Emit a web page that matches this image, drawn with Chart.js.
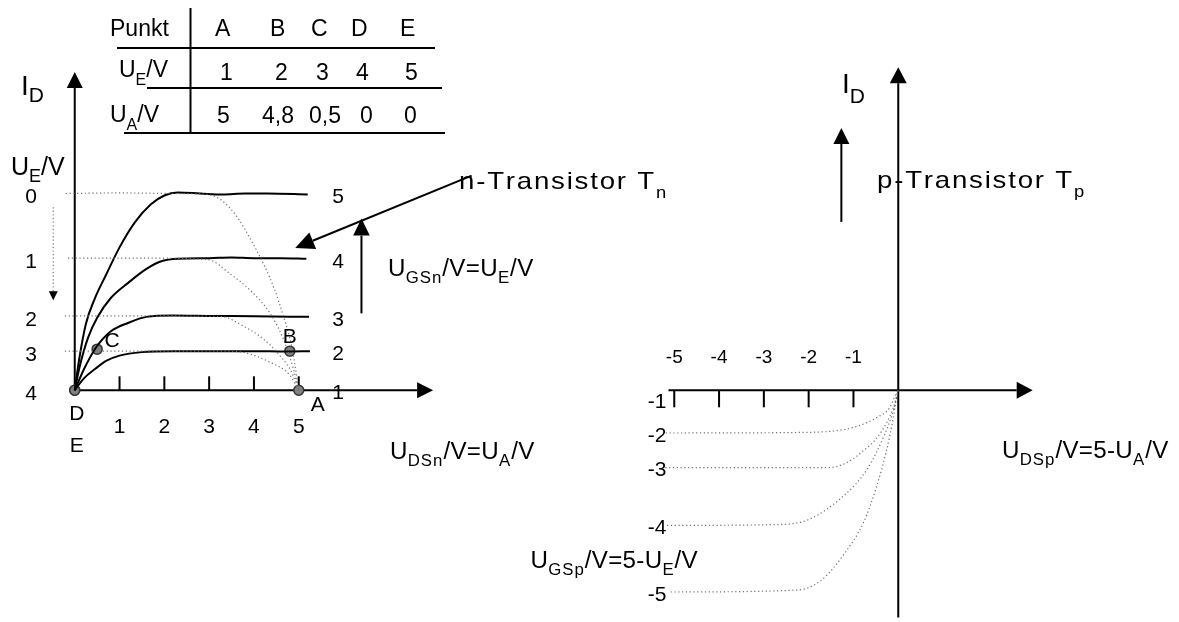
<!DOCTYPE html>
<html>
<head>
<meta charset="utf-8">
<script src="https://cdn.jsdelivr.net/npm/chart.js@4.4.1/dist/chart.umd.min.js"></script>
<style>
  html, body { margin: 0; padding: 0; background: #fff; }
  #wrap { position: relative; width: 1179px; height: 622px; }
</style>
</head>
<body>
<div id="wrap"><canvas id="myChart" width="1179" height="622"></canvas></div>
<script>
//operating points table
const punkte = ["A", "B", "C", "D", "E"];
const uE = [1, 2, 3, 4, 5];
const uA = [5, 4.8, 0.5, 0, 0];
const iPunkt = [0, 2.0, 2.1, 0, 0];

//n-transistor output curves, U_GSn = 5, 4, 3, 2 (1 lies on the axis)
const uGSn = [5, 4, 3, 2, 1];
const n5x = [0, 0.1, 0.25, 0.45, 0.7, 1.0, 1.35, 1.7, 2.0, 2.3, 2.8, 3.3, 3.8, 4.3, 5.2];
const n5y = [0, 1.6, 3.4, 4.7, 5.9, 7.3, 8.6, 9.5, 9.95, 10.1, 10.05, 10.0, 10.05, 10.05, 10.0];
const n4x = [0, 0.12, 0.3, 0.5, 0.8, 1.2, 1.6, 1.95, 2.3, 3.0, 3.5, 4.0, 4.6, 5.17];
const n4y = [0, 1.3, 2.7, 3.7, 4.7, 5.5, 6.2, 6.6, 6.72, 6.75, 6.78, 6.75, 6.75, 6.72];
const n3x = [0, 0.2, 0.45, 0.8, 1.2, 1.6, 2.2, 3.0, 4.0, 5.23];
const n3y = [0, 1.05, 2.1, 3.0, 3.45, 3.75, 3.82, 3.8, 3.78, 3.75];
const n2x = [0, 0.2, 0.46, 0.7, 1.0, 1.5, 2.2, 3.0, 4.0, 4.7, 5.25];
const n2y = [0, 0.6, 1.1, 1.5, 1.77, 1.95, 2.0, 2.0, 2.0, 1.98, 2.0];

//p-transistor curves mirrored into the n field, U_E = 0, 1, 2, 3
const uELevel = [0, 1, 2, 3, 4];
const m0x = [-0.2, 1.0, 2.2, 2.97, 3.48, 4.07, 4.44, 4.66, 4.84, 4.95, 5.0];
const m0y = [10.05, 10.08, 10.05, 10.0, 9.27, 7.1, 5.27, 3.77, 2.27, 0.77, 0];
const m1x = [-0.15, 1.5, 2.96, 3.48, 3.92, 4.36, 4.66, 4.88, 5.0];
const m1y = [6.75, 6.75, 6.68, 5.93, 5.1, 3.93, 2.6, 1.1, 0];
const m2x = [-0.22, 1.5, 3.26, 3.77, 4.22, 4.58, 4.84, 5.0];
const m2y = [3.8, 3.8, 3.77, 3.27, 2.6, 1.77, 0.93, 0];
const m3x = [-0.22, 1.5, 3.3, 3.77, 4.36, 4.8, 5.0];
const m3y = [2.0, 2.0, 2.0, 1.93, 1.43, 0.77, 0];

//p-transistor curves, U_GSp = -2 .. -5
const uGSp = [-1, -2, -3, -4, -5];
const p2x = [-5.19, -2.1, -1.2, -0.75, -0.48, -0.19, -0.04, 0];
const p2y = [-2.18, -2.15, -2.0, -1.7, -1.39, -0.89, -0.13, 0];
const p3x = [-5.2, -1.6, -1.2, -0.85, -0.41, -0.11, 0];
const p3y = [-3.95, -3.95, -3.75, -3.22, -2.22, -0.89, 0];
const p4x = [-5.16, -2.6, -2.0, -1.22, -0.7, -0.33, -0.11, 0];
const p4y = [-6.9, -6.85, -6.6, -5.39, -4.05, -2.39, -1.04, 0];
const p5x = [-5.08, -2.25, -1.73, -1.22, -0.77, -0.48, -0.26, -0.11, -0.02, 0];
const p5y = [-10.3, -10.2, -9.72, -8.39, -6.72, -4.89, -3.05, -1.39, -0.13, 0];

//axis ticks
const nTicks = [1, 2, 3, 4, 5];
const pTicks = [-5, -4, -3, -2, -1];

const FONT = "'Liberation Sans', Arial, sans-serif";
const PX_V = 45.3; // pixels per volt
const PX_I = 20; // pixels per current unit

function pts(xs, ys) {
  return xs.map((x, i) => ({ x: x, y: ys[i] }));
}

function solid(xs, ys) {
  return {
    data: pts(xs, ys),
    showLine: true,
    borderColor: "#000",
    borderWidth: 2,
    pointRadius: 0,
    cubicInterpolationMode: "monotone",
    xAxisID: "x",
  };
}

function dotted(xs, ys, axis) {
  return {
    data: pts(xs, ys),
    showLine: true,
    borderColor: "#6e6e6e",
    borderWidth: 1.2,
    borderDash: [1.2, 2.6],
    pointRadius: 0,
    cubicInterpolationMode: "monotone",
    xAxisID: axis,
  };
}

//filled arrow from (x1,y1) to tip (x2,y2), pixel coords
function arrow(ctx, x1, y1, x2, y2, len, half, dash) {
  const a = Math.atan2(y2 - y1, x2 - x1);
  const bx = x2 - len * Math.cos(a);
  const by = y2 - len * Math.sin(a);
  ctx.save();
  if (dash) {
    ctx.setLineDash(dash);
    ctx.strokeStyle = "#777";
    ctx.fillStyle = "#000";
    ctx.lineWidth = 1.2;
  }
  ctx.beginPath();
  ctx.moveTo(x1, y1);
  ctx.lineTo(bx, by);
  ctx.stroke();
  ctx.setLineDash([]);
  ctx.beginPath();
  ctx.moveTo(x2, y2);
  ctx.lineTo(bx + half * Math.sin(a), by - half * Math.cos(a));
  ctx.lineTo(bx - half * Math.sin(a), by + half * Math.cos(a));
  ctx.closePath();
  ctx.fill();
  ctx.restore();
}

//text with subscripts: segs = [[text, isSub], ...]
//o.sx stretches the glyphs sideways, o.spacing / o.subSpacing add room between them
function rich(ctx, segs, x, y, o) {
  const size = o.size;
  const sub = o.sub || Math.round(size * 0.65);
  const drop = o.drop || Math.round(size * 0.3);
  const sx = o.sx || 1;
  const gap = (s) => (s[1] ? (o.subSpacing != null ? o.subSpacing : o.spacing || 0) : o.spacing || 0);
  let w = 0;
  segs.forEach((s) => {
    ctx.font = (s[1] ? sub : size) + "px " + FONT;
    for (const ch of s[0]) w += ctx.measureText(ch).width * sx + gap(s);
  });
  let cx = x;
  if (o.align === "center") cx = x - w / 2;
  if (o.align === "right") cx = x - w;
  ctx.textAlign = "left";
  ctx.textBaseline = "alphabetic";
  segs.forEach((s) => {
    ctx.font = (s[1] ? sub : size) + "px " + FONT;
    for (const ch of s[0]) {
      ctx.save();
      ctx.translate(cx, y + (s[1] ? drop : 0));
      ctx.scale(sx, 1);
      ctx.fillText(ch, 0, 0);
      ctx.restore();
      cx += ctx.measureText(ch).width * sx + gap(s);
    }
  });
}

function label(ctx, text, x, y, size) {
  ctx.font = size + "px " + FONT;
  ctx.textAlign = "center";
  ctx.textBaseline = "middle";
  ctx.fillText(text, x, y);
}

const fmt = (v) => String(v).replace(".", ",");

//axes, ticks and arrows under the curves
const axesPlugin = {
  id: "axes",
  beforeDatasetsDraw(chart) {
    const ctx = chart.ctx;
    const x = chart.scales.x, xp = chart.scales.xp, y = chart.scales.y;
    ctx.save();
    ctx.strokeStyle = "#000";
    ctx.fillStyle = "#000";
    ctx.lineWidth = 2;

    //n field
    const ox = x.getPixelForValue(0), oy = y.getPixelForValue(0);
    arrow(ctx, ox, oy, ox, y.getPixelForValue(16.25), 16, 8);
    arrow(ctx, ox, oy, x.getPixelForValue(8.0), oy, 16, 8);
    nTicks.forEach((t) => {
      const tx = x.getPixelForValue(t);
      ctx.beginPath();
      ctx.moveTo(tx, oy);
      ctx.lineTo(tx, oy - 14);
      ctx.stroke();
    });

    //p field
    const px = xp.getPixelForValue(0);
    arrow(ctx, px, y.getPixelForValue(-11.6), px, y.getPixelForValue(16.5), 16, 8.5);
    arrow(ctx, xp.getPixelForValue(-5.13), oy, xp.getPixelForValue(3.0), oy, 16, 8.5);
    pTicks.forEach((t) => {
      const tx = xp.getPixelForValue(t);
      ctx.beginPath();
      ctx.moveTo(tx, oy);
      ctx.lineTo(tx, oy + 17);
      ctx.stroke();
    });

    //direction arrows
    arrow(ctx, x.getPixelForValue(6.4), y.getPixelForValue(3.93), x.getPixelForValue(6.4), y.getPixelForValue(8.77), 17, 8.3);
    arrow(ctx, x.getPixelForValue(8.86), y.getPixelForValue(10.96), x.getPixelForValue(4.92), y.getPixelForValue(7.27), 19, 9);
    arrow(ctx, xp.getPixelForValue(-1.27), y.getPixelForValue(8.6), xp.getPixelForValue(-1.27), y.getPixelForValue(13.4), 16, 8);
    arrow(ctx, x.getPixelForValue(-0.48), y.getPixelForValue(9.35), x.getPixelForValue(-0.48), y.getPixelForValue(4.6), 9, 4.5, [1.2, 2.4]);
    ctx.restore();
  },

  //texts and the table on top
  afterDraw(chart) {
    const ctx = chart.ctx;
    const x = chart.scales.x, xp = chart.scales.xp, y = chart.scales.y;
    const oy = y.getPixelForValue(0);
    ctx.save();
    ctx.fillStyle = "#000";
    ctx.strokeStyle = "#000";
    ctx.lineWidth = 2;

    //table
    ctx.beginPath();
    ctx.moveTo(190.5, 8); ctx.lineTo(190.5, 132);
    ctx.moveTo(117, 48); ctx.lineTo(435, 48);
    ctx.moveTo(147, 88); ctx.lineTo(442, 88);
    ctx.moveTo(124, 133); ctx.lineTo(445, 133);
    ctx.stroke();
    const colX = [215, 270, 311, 351, 400];
    const colA = [217, 262, 309, 360, 404];
    const tab = { size: 23, sub: 16, drop: 8 };
    rich(ctx, [["Punkt"]], 110, 36, tab);
    rich(ctx, [["U"], ["E", 1], ["/V"]], 119, 77, tab);
    rich(ctx, [["U"], ["A", 1], ["/V"]], 110, 122, tab);
    punkte.forEach((p, i) => {
      rich(ctx, [[p]], colX[i], 36, tab);
      rich(ctx, [[String(uE[i])]], colX[i] + 5, 80, tab);
      rich(ctx, [[fmt(uA[i])]], colA[i], 123, tab);
    });

    //n field labels
    rich(ctx, [["I"], ["D", 1]], 21, 95, { size: 28, sub: 21, drop: 7 });
    rich(ctx, [["U"], ["E", 1], ["/V"]], 11, 175, { size: 25, sub: 18, drop: 7 });
    const levelY = [m0y[0], m1y[0], m2y[0], m3y[0], 0];
    uELevel.forEach((u, i) => label(ctx, String(u), 31, y.getPixelForValue(levelY[i]) + 4, 21));
    const curveY = [n5y[n5y.length - 1], n4y[n4y.length - 1], n3y[n3y.length - 1], n2y[n2y.length - 1], 0];
    uGSn.forEach((u, i) => label(ctx, String(u), x.getPixelForValue(5.88), y.getPixelForValue(curveY[i]) + 3, 21));
    nTicks.forEach((t) => label(ctx, String(t), x.getPixelForValue(t), oy + 37, 21));
    label(ctx, "D", x.getPixelForValue(uA[3]) + 2, oy + 24, 21);
    label(ctx, "E", x.getPixelForValue(uA[4]) + 2, oy + 56, 21);
    label(ctx, "A", x.getPixelForValue(uA[0]) + 19, oy + 15, 21);
    label(ctx, "B", x.getPixelForValue(uA[1]), y.getPixelForValue(iPunkt[1]) - 14, 21);
    label(ctx, "C", x.getPixelForValue(uA[2]) + 15, y.getPixelForValue(iPunkt[2]) - 8, 21);

    const big = { size: 24, sub: 16, drop: 9, sx: 1.15, spacing: 1.8 };
    const eq = { size: 23, sub: 16, drop: 7, sx: 1.05, spacing: 0.3, subSpacing: 1 };
    rich(ctx, [["n-Transistor T"], ["n", 1]], 459, 189, big);
    rich(ctx, [["U"], ["GSn", 1], ["/V=U"], ["E", 1], ["/V"]], 388, 276, eq);
    rich(ctx, [["U"], ["DSn", 1], ["/V=U"], ["A", 1], ["/V"]], 390, 459, eq);

    //p field labels
    rich(ctx, [["I"], ["D", 1]], 842, 93, { size: 28, sub: 21, drop: 10 });
    rich(ctx, [["p-Transistor T"], ["p", 1]], 877, 188, big);
    pTicks.forEach((t) => label(ctx, String(t), xp.getPixelForValue(t), oy - 33, 19));
    const pLevelY = [-0.45, p2y[0], p3y[0], p4y[0], p5y[0]];
    uGSp.forEach((u, i) => label(ctx, String(u), 657, y.getPixelForValue(pLevelY[i]) + 3, 21));
    rich(ctx, [["U"], ["DSp", 1], ["/V=5-U"], ["A", 1], ["/V"]], 1002, 458, eq);
    rich(ctx, [["U"], ["GSp", 1], ["/V=5-U"], ["E", 1], ["/V"]], 698, 568, Object.assign({ align: "right" }, eq));
    ctx.restore();
  },
};

const ctx = document.getElementById("myChart");
const myChart = new Chart(ctx, {
  type: "scatter",
  data: {
    datasets: [
      dotted(m0x, m0y, "x"),
      dotted(m1x, m1y, "x"),
      dotted(m2x, m2y, "x"),
      dotted(m3x, m3y, "x"),
      dotted(p2x, p2y, "xp"),
      dotted(p3x, p3y, "xp"),
      dotted(p4x, p4y, "xp"),
      dotted(p5x, p5y, "xp"),
      solid(n5x, n5y),
      solid(n4x, n4y),
      solid(n3x, n3y),
      solid(n2x, n2y),
      {
        data: pts(uA, iPunkt),
        showLine: false,
        pointRadius: 5,
        pointBackgroundColor: "#808080",
        pointBorderColor: "#333",
        pointBorderWidth: 1.5,
        xAxisID: "x",
      },
    ],
  },
  options: {
    responsive: false,
    animation: false,
    layout: { padding: 0 },
    plugins: {
      legend: { display: false },
      tooltip: { enabled: false },
    },
    scales: {
      x: { type: "linear", display: false, min: -69 / PX_V, max: (1179 - 69) / PX_V },
      xp: { type: "linear", axis: "x", display: false, min: -901.7 / PX_V, max: (1179 - 901.7) / PX_V },
      y: { type: "linear", display: false, min: -(622 - 392) / PX_I, max: 392 / PX_I },
    },
  },
  plugins: [axesPlugin],
});
</script>
</body>
</html>
